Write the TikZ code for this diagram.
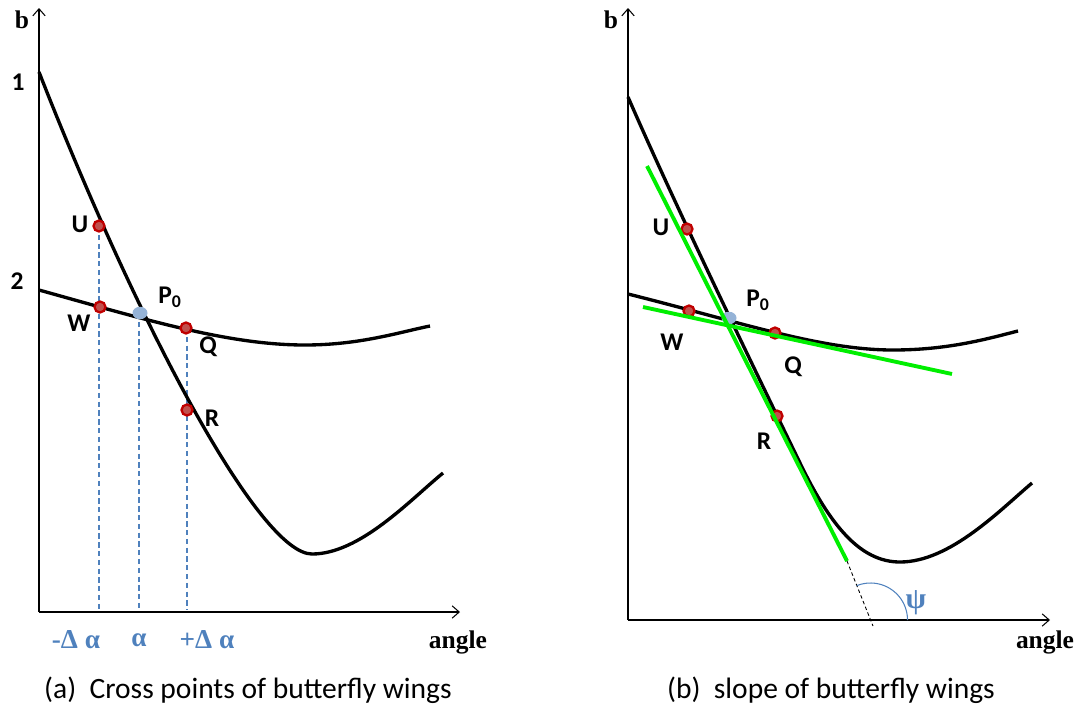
\documentclass[tikz,border=0pt]{standalone}
\usepackage{fontspec}
\setmainfont{Carlito}
\newfontfamily\tnr{Liberation Serif}
\usetikzlibrary{arrows.meta,shapes.geometric}
\definecolor{wingRed}{HTML}{C00000}
\definecolor{wingRose}{HTML}{C0504D}
\definecolor{wingBlue}{HTML}{4F81BD}
\definecolor{wingDot}{HTML}{95B3D7}
\definecolor{wingGreen}{HTML}{00EE00}
\tikzset{
  >={Straight Barb[length=4pt,width=7pt]},
  axis/.style={->, line width=0.6pt},
  wing/.style={line width=1.9pt, line join=round},
  guide/.style={draw=wingBlue, line width=0.6pt, dash pattern=on 3pt off 2pt},
  tangent/.style={draw=wingGreen, line width=2.2pt},
  hit/.style={circle, draw=wingRed, fill=wingRose, line width=1.3pt,
              minimum size=0.22cm, inner sep=0pt},
  cross/.style={ellipse, fill=wingDot, minimum width=0.3cm,
              minimum height=0.25cm, inner sep=0pt},
  lbl/.style={font=\fontsize{14.5}{14.5}\selectfont\bfseries},
  ser/.style={font=\tnr\bfseries\fontsize{14.5}{14.5}\selectfont},
  tick/.style={font=\tnr\bfseries\fontsize{15.5}{15.5}\selectfont, text=wingBlue},
  capline/.style={font=\fontsize{16.8}{16.8}\selectfont},
}

\begin{document}
\begin{tikzpicture}[x=0.02cm,y=-0.02cm]
  \useasboundingbox (0,0) rectangle (1087,710);

  % (a) cross points
  \draw[guide] (99,226) -- (99,610);
  \draw[guide] (139,313) -- (139,610);
  \draw[guide] (187,328) -- (187,610);
  \draw[axis] (39,612) -- (39,8);
  \draw[axis] (39,612) -- (460,612);
  \draw[wing] (39,72) .. controls (140,330) and (260,554) .. (312,554)
                      .. controls (360,554) and (410,500) .. (443,473);
  \draw[wing] (39,290) .. controls (150,321) and (230,345) .. (305,345)
                       .. controls (360,345) and (400,332) .. (430,326);
  \node[cross] (pa) at (140,313) {};
  \foreach \n/\p in {ua/{99,226},wa/{100,307},qa/{186,328},ra/{187,410}}
    \node[hit] (\n) at (\p) {};
  \node[ser] (ba) at (22,20) {b};
  \node[lbl] (one) at (18,82) {1};
  \node[lbl] (two) at (17,281) {2};
  \node[lbl] (lua) at (80,224) {U};
  \node[lbl] (lwa) at (79,323) {W};
  \node[lbl] (lpa) at (170,297) {P\textsubscript{0}};
  \node[lbl] (lqa) at (208,347) {Q};
  \node[lbl] (lra) at (212,418) {R};
  \node[tick] (ma) at (76,640) {-Δ α};
  \node[tick] (za) at (139,640) {α};
  \node[tick] (pl) at (207,640) {+Δ α};
  \node[ser] (xa) at (458,642) {angle};
  \node[capline] (capa) at (248,690) {(a)\ \ Cross points of butterfly wings};

  % (b) slope
  \draw[axis] (628,620) -- (628,8);
  \draw[axis] (628,620) -- (1050,620);
  \draw[wing] (628,97) .. controls (675,205) and (750,360) .. (800,463)
                       .. controls (830,525) and (860,562) .. (900,562)
                       .. controls (950,562) and (1000,510) .. (1032,483);
  \draw[wing] (628,294) .. controls (740,322) and (820,350) .. (893,350)
                        .. controls (950,350) and (990,338) .. (1018,331);
  \node[cross] (pb) at (729,318) {};
  \foreach \n/\p in {ub/{687,229},wb/{689,311},qb/{775,333},rb/{777,416}}
    \node[hit] (\n) at (\p) {};
  \coordinate (gs) at (647,166);
  \coordinate (ge) at (847,561);
  \coordinate (hs) at (643,307);
  \coordinate (he) at (952,374);
  \coordinate (cut) at (873,626);
  \draw[tangent] (gs) -- (ge);
  \draw[tangent] (hs) -- (he);
  \draw[line width=0.5pt, dash pattern=on 2pt off 1.5pt] (ge) -- (cut);
  \draw[wingBlue, line width=0.6pt] plot[domain=0:112,samples=30]
    ({870.5+37*cos(\x)},{620-37*sin(\x)});
  \node[tick, font=\tnr\bfseries\fontsize{17}{17}\selectfont] (psi) at (916,603) {ψ};
  \node[ser] (bb) at (611,20) {b};
  \node[lbl] (lub) at (661,227) {U};
  \node[lbl] (lwb) at (672,342) {W};
  \node[lbl] (lpb) at (758,300) {P\textsubscript{0}};
  \node[lbl] (lqb) at (793,367) {Q};
  \node[lbl] (lrb) at (764,441) {R};
  \node[ser] (xb) at (1045,642) {angle};
  \node[capline] (capb) at (831,690) {(b)\ \ slope of butterfly wings};
\end{tikzpicture}
\end{document}
